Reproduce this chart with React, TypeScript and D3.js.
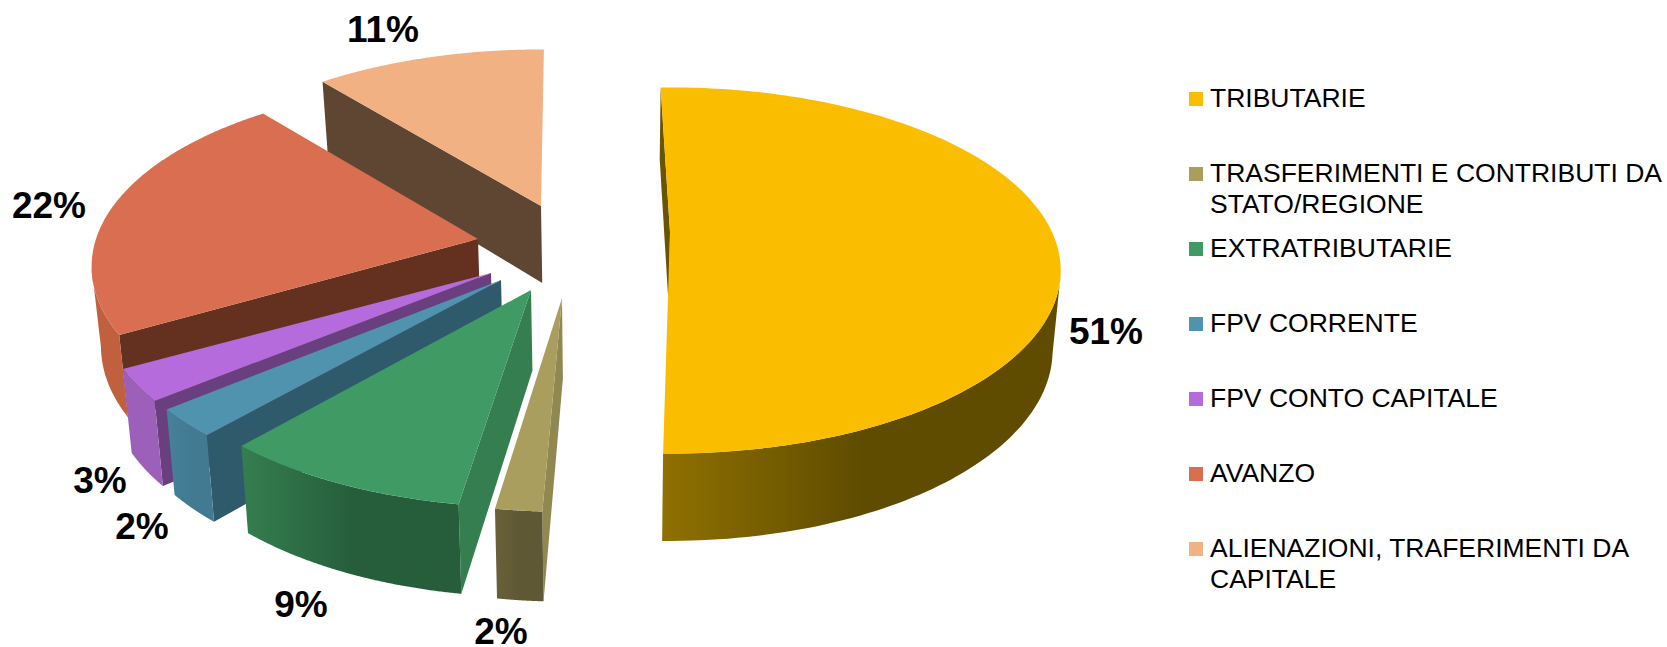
import React from "react";
import * as d3 from "d3";

const categories = ["TRIBUTARIE", "TRASFERIMENTI E CONTRIBUTI DA STATO/REGIONE", "EXTRATRIBUTARIE", "FPV CORRENTE", "FPV CONTO CAPITALE", "AVANZO", "ALIENAZIONI, TRAFERIMENTI DA CAPITALE"];
const legendLines = [["TRIBUTARIE"], ["TRASFERIMENTI E CONTRIBUTI DA", "STATO/REGIONE"], ["EXTRATRIBUTARIE"], ["FPV CORRENTE"], ["FPV CONTO CAPITALE"], ["AVANZO"], ["ALIENAZIONI, TRAFERIMENTI DA", "CAPITALE"]];
const values = [50.7, 1.7, 8.8, 2.45, 2.8, 22.4, 11.15];
const topColors = ["#fbbd00", "#a99e5e", "#3f9b63", "#4f93ae", "#b56bdb", "#da6e50", "#f2b183"];
const outerFrom = ["#8f7000", "#6a6139", "#357e50", "#46809a", "#9c5fba", "#c0603f", "#c08a60"];
const outerTo = ["#5f4c00", "#5f5835", "#265e3c", "#427a92", "#9c5fba", "#c0603f", "#c08a60"];
const cutColors = ["#6b5400", "#918750", "#357e50", "#2f5a6c", "#693f7f", "#64301f", "#5e4632"];

// slice layout: apex, radii, perspective strength and small angular correction (degrees)
const apexX = [670, 562, 531, 501, 491, 478, 541];
const apexY = [232, 298, 290, 280, 273, 239, 206];
const radX = [382, 358, 378, 382, 382, 382, 382];
const radY = [175, 171, 174, 174, 174, 180, 180];
const persp = [0.21, 0.2, 0.2, 0.2, 0.2, 0.15, 0.15];
const angleShift = [-1.7, 0, 0.2, 0.5, 1, 1.2, 0.5];
const vanishX = 610;
const baseShrink = 0.018;
const depthAt = (y: number) => 77 + 0.042 * (y - 206);

const legendY = [97.7, 172.7, 247.7, 322.7, 397.7, 472.7, 547.7];
const labelText = values.map((v) => `${Math.round(v)}%`);
const labelX = [1106, 501, 301, 142, 100, 49, 383];
const labelY = [331, 631, 604, 526, 480, 205, 29];

export default function App() {
  const arcs = d3.pie<number>().sort(null)(values);
  const pt = (i: number, t: number) => {
    const u = Math.sin(t), v = -Math.cos(t), w = 1 - persp[i] * v;
    return [apexX[i] + (radX[i] * u) / w, apexY[i] + (radY[i] * v) / w] as [number, number];
  };
  const base = (p: [number, number]) => [p[0] + (vanishX - p[0]) * baseShrink, p[1] + depthAt(p[1])] as [number, number];
  const line = d3.line();
  const order = [6, 5, 4, 3, 2, 1, 0];
  return (
    <svg width={1667} height={647} style={{ position: "absolute", left: 0, top: 0, background: "#fff" }}>
      <defs>
        {values.map((_, i) => (
          <linearGradient key={i} id={`w${i}`} x1="0" x2="1" y1="0" y2="0">
            <stop offset="0" stopColor={outerFrom[i]} />
            <stop offset="0.5" stopColor={outerTo[i]} />
            <stop offset="1" stopColor={outerTo[i]} />
          </linearGradient>
        ))}
      </defs>
      {order.map((i) => {
        const a = arcs[i];
        const shift = (angleShift[i] * Math.PI) / 180;
        const ts = d3.range(0, 161).map((k) => a.startAngle + shift + ((a.endAngle - a.startAngle) * k) / 160);
        const rim = ts.map((t) => pt(i, t));
        const front = ts.filter((t) => Math.cos(t) < -persp[i]).map((t) => pt(i, t));
        const apex: [number, number] = [apexX[i], apexY[i]];
        const first = rim[0];
        return (
          <g key={i}>
            <path d={line([apex, first, base(first), base(apex)]) + "Z"} fill={cutColors[i]} />
            {front.length > 1 && <path d={line([...front, ...front.map(base).reverse()]) + "Z"} fill={`url(#w${i})`} />}
            <path d={line([apex, ...rim]) + "Z"} fill={topColors[i]} />
          </g>
        );
      })}
      {labelText.map((t, i) => (
        <text key={i} x={labelX[i]} y={labelY[i]} textAnchor="middle" dominantBaseline="central" fontFamily="Liberation Sans" fontWeight="bold" fontSize={37} fill="#000">{t}</text>
      ))}
      {categories.map((c, i) => (
        <g key={c}>
          <rect x={1189} y={legendY[i] - 5.7} width={14} height={14} fill={topColors[i]} />
          {legendLines[i].map((l, j) => (
            <text key={j} x={1210} y={legendY[i] + 9 + j * 31} fontFamily="Liberation Sans" fontSize={26.5} fill="#000">{l}</text>
          ))}
        </g>
      ))}
    </svg>
  );
}
